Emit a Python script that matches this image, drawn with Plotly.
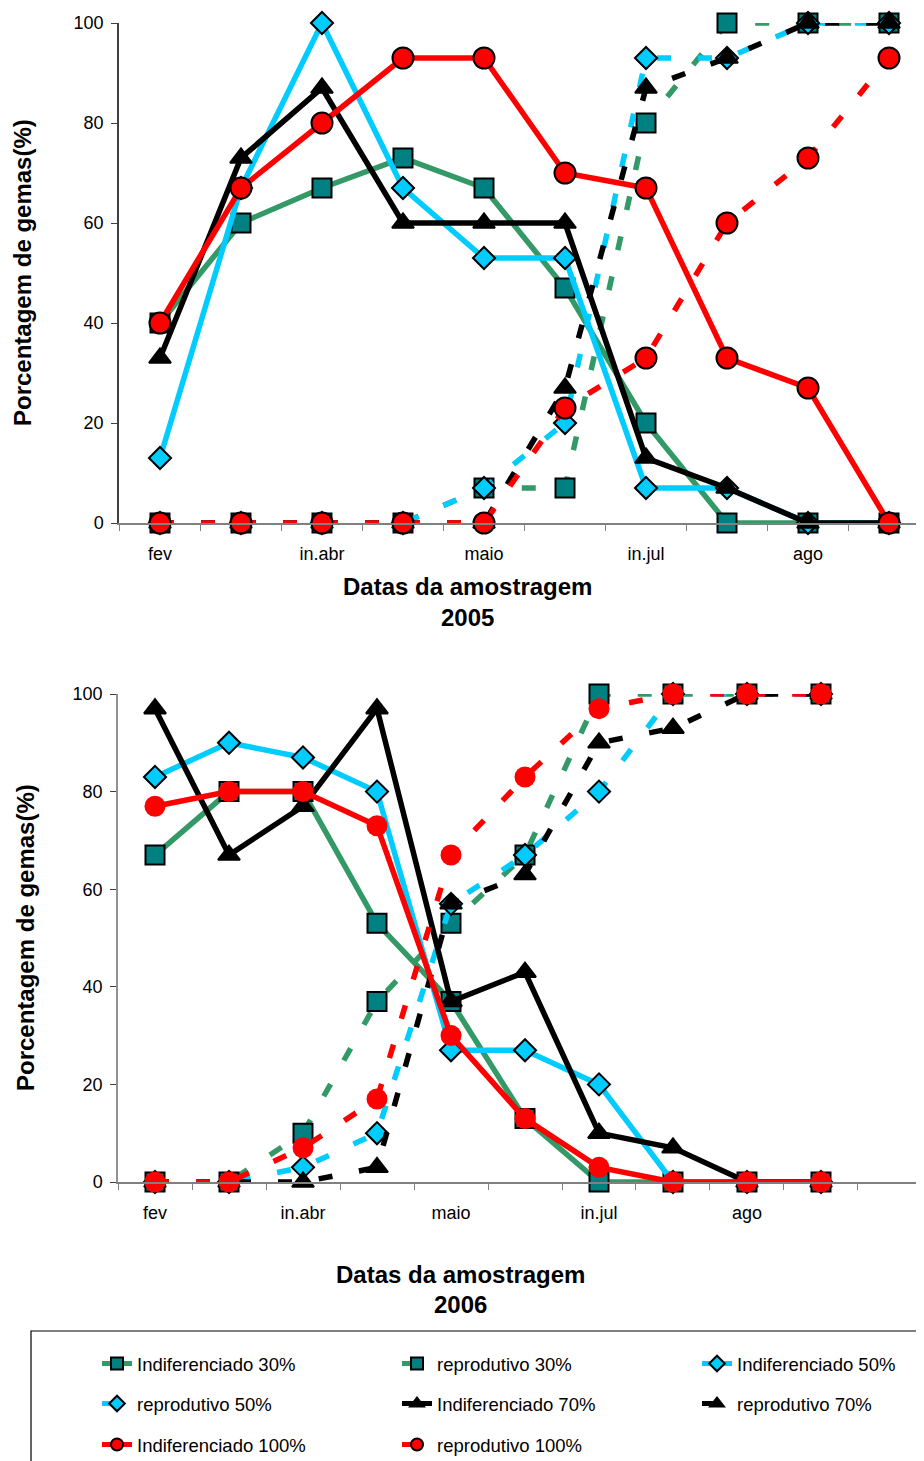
import plotly.graph_objects as go

# page body has an 8px margin, so the figure is sized to fill the rest of the window
OFF = 8
W, H = 924 - OFF, 1461 - OFF

# ---------------- data ----------------
positions = list(range(10))
tick_pos = [0, 2, 4, 6, 8]
tick_text = ["fev", "in.abr", "maio", "in.jul", "ago"]

# 2005
ind30_2005 = [40, 60, 67, 73, 67, 47, 20, 0, 0, 0]
rep30_2005 = [0, 0, 0, 0, 7, 7, 80, 100, 100, 100]
ind50_2005 = [13, 67, 100, 67, 53, 53, 7, 7, 0, 0]
rep50_2005 = [0, 0, 0, 0, 7, 20, 93, 93, 100, 100]
ind70_2005 = [33, 73, 87, 60, 60, 60, 13, 7, 0, 0]
rep70_2005 = [0, 0, 0, 0, 0, 27, 87, 93, 100, 100]
ind100_2005 = [40, 67, 80, 93, 93, 70, 67, 33, 27, 0]
rep100_2005 = [0, 0, 0, 0, 0, 23, 33, 60, 73, 93]

# 2006
ind30_2006 = [67, 80, 80, 53, 37, 13, 0, 0, 0, 0]
rep30_2006 = [0, 0, 10, 37, 53, 67, 100, 100, 100, 100]
ind50_2006 = [83, 90, 87, 80, 27, 27, 20, 0, 0, 0]
rep50_2006 = [0, 0, 3, 10, 57, 67, 80, 100, 100, 100]
ind70_2006 = [97, 67, 77, 97, 37, 43, 10, 7, 0, 0]
rep70_2006 = [0, 0, 0, 3, 57, 63, 90, 93, 100, 100]
ind100_2006 = [77, 80, 80, 73, 30, 13, 3, 0, 0, 0]
rep100_2006 = [0, 0, 7, 17, 67, 83, 97, 100, 100, 100]

names = ["Indiferenciado 30%", "reprodutivo 30%", "Indiferenciado 50%",
         "reprodutivo 50%", "Indiferenciado 70%", "reprodutivo 70%",
         "Indiferenciado 100%", "reprodutivo 100%"]

FONT = "Liberation Sans, Arial, sans-serif"
GREEN = "#339966"
TEAL = "#008080"
CYAN = "#00CCFF"
RED = "#FF0000"
BLACK = "#000000"
DASH = "14px,27px"


def px(x):
    """page pixel x -> paper fraction"""
    return (x - OFF) / W


def py(y):
    """page pixel y -> paper fraction"""
    return 1 - (y - OFF) / H


styles = [
    dict(line=GREEN, dash="solid", symbol="square", size=19, fill=TEAL, mline=BLACK),
    dict(line=GREEN, dash=DASH, symbol="square", size=19, fill=TEAL, mline=BLACK),
    dict(line=CYAN, dash="solid", symbol="diamond", size=17, fill=CYAN, mline=BLACK),
    dict(line=CYAN, dash=DASH, symbol="diamond", size=17, fill=CYAN, mline=BLACK),
    dict(line=BLACK, dash="solid", symbol="triangle-up", size=19, fill=BLACK, mline=BLACK),
    dict(line=BLACK, dash=DASH, symbol="triangle-up", size=19, fill=BLACK, mline=BLACK),
    dict(line=RED, dash="solid", symbol="circle", size=21, fill=RED, mline=BLACK),
    dict(line=RED, dash=DASH, symbol="circle", size=21, fill=RED, mline=BLACK),
]

series_2005 = [ind30_2005, rep30_2005, ind50_2005, rep50_2005,
               ind70_2005, rep70_2005, ind100_2005, rep100_2005]
series_2006 = [ind30_2006, rep30_2006, ind50_2006, rep50_2006,
               ind70_2006, rep70_2006, ind100_2006, rep100_2006]

legend_ids = ["legend" if i == 0 else "legend%d" % (i + 1) for i in range(8)]
col_text_x = [137, 437, 737]
row_y = [1364, 1404, 1445]

fig = go.Figure()

for i, (vals, st) in enumerate(zip(series_2005, styles)):
    fig.add_trace(go.Scatter(
        x=positions, y=vals, name=names[i], mode="lines+markers",
        xaxis="x", yaxis="y", cliponaxis=False,
        line=dict(color=st["line"], width=5.5, dash=st["dash"]),
        marker=dict(symbol=st["symbol"], size=st["size"], color=st["fill"],
                    line=dict(color=st["mline"], width=2)),
        legend=legend_ids[i], showlegend=True,
    ))

for i, (vals, st) in enumerate(zip(series_2006, styles)):
    is_circle = st["symbol"] == "circle"
    fig.add_trace(go.Scatter(
        x=positions, y=vals, name=names[i], mode="lines+markers",
        xaxis="x2", yaxis="y2", cliponaxis=False,
        line=dict(color=st["line"], width=5.5, dash=st["dash"]),
        marker=dict(symbol=st["symbol"], size=st["size"], color=st["fill"],
                    line=dict(color=st["mline"], width=0 if is_circle else 2)),
        showlegend=False,
    ))

minor_vals = [p - 0.5 for p in range(11)]
minor_vals2 = [p - 0.5 for p in range(12)]

xcommon = dict(
    tickmode="array", tickvals=tick_pos, ticktext=tick_text,
    ticks="outside", ticklen=14, tickcolor="rgba(0,0,0,0)",
    showline=True, linecolor="#808080", linewidth=1.5,
    showgrid=False, zeroline=False,
    tickfont=dict(family=FONT, size=18, color="black"),
)
ycommon = dict(
    range=[0, 100], tickmode="array", tickvals=[0, 20, 40, 60, 80, 100],
    ticks="outside", ticklen=6, tickcolor="#404040",
    showline=True, linewidth=1.5, ticklabelstandoff=4,
    showgrid=False, zeroline=False,
    tickfont=dict(family=FONT, size=18, color="black"),
)

fig.update_layout(
    width=W, height=H,
    margin=dict(l=0, r=0, t=0, b=0, autoexpand=False),
    paper_bgcolor="white", plot_bgcolor="white",
    font=dict(family=FONT, color="black"),
    xaxis=dict(domain=[px(119), 1], range=[-0.506, 9.432], anchor="y",
               minor=dict(tickvals=minor_vals, ticks="outside", ticklen=6,
                          tickcolor="#808080", showgrid=False),
               **xcommon),
    yaxis=dict(domain=[py(523), py(23)], anchor="x", linecolor="#404040", **ycommon),
    xaxis2=dict(domain=[px(118), 1], range=[-0.5, 10.392], anchor="y2",
                minor=dict(tickvals=minor_vals2, ticks="outside", ticklen=6,
                           tickcolor="#808080", showgrid=False),
                **xcommon),
    yaxis2=dict(domain=[py(1182), py(694)], anchor="x2", linecolor="#909090", **ycommon),
)

legends = {}
for i, lid in enumerate(legend_ids):
    r, c = divmod(i, 3)
    legends[lid] = dict(
        orientation="h", x=px(col_text_x[c] - 40), xanchor="left",
        y=py(row_y[r]), yanchor="middle", itemsizing="constant",
        bgcolor="rgba(0,0,0,0)", borderwidth=0,
        font=dict(family=FONT, size=18.5, color="black"),
    )
fig.update_layout(**legends)

# legend frame
fig.add_shape(type="rect", xref="paper", yref="paper",
              x0=px(31), x1=px(940), y0=py(1475), y1=py(1331),
              line=dict(color="black", width=1.2), fillcolor="rgba(0,0,0,0)")

title_font = dict(family=FONT, size=24, color="black")
annots = [
    dict(text="<b>Datas da amostragem</b>", x=px(467), y=py(587)),
    dict(text="<b>2005</b>", x=px(467), y=py(617)),
    dict(text="<b>Datas da amostragem</b>", x=px(460), y=py(1274)),
    dict(text="<b>2006</b>", x=px(460), y=py(1304)),
]
for a in annots:
    fig.add_annotation(xref="paper", yref="paper", showarrow=False,
                       xanchor="center", yanchor="middle", font=title_font, **a)
fig.add_annotation(text="<b>Porcentagem de gemas(%)</b>", xref="paper", yref="paper",
                   x=px(22), y=py(273), textangle=-90, showarrow=False,
                   xanchor="center", yanchor="middle", font=title_font)
fig.add_annotation(text="<b>Porcentagem de gemas(%)</b>", xref="paper", yref="paper",
                   x=px(25), y=py(938), textangle=-90, showarrow=False,
                   xanchor="center", yanchor="middle", font=title_font)

fig.write_html("out.html")
